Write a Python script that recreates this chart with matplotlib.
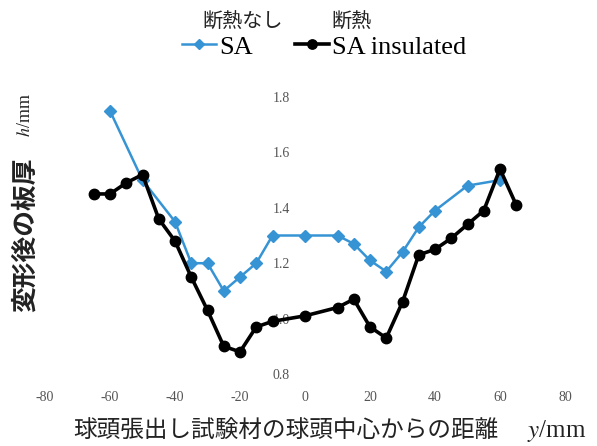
import matplotlib
matplotlib.use("Agg")
import matplotlib.pyplot as plt

# Distance from the ball-head centre (mm) and sheet thickness after forming (mm)
y_sa = [-60, -50, -40, -35, -30, -25, -20, -15, -10, 0, 10, 15, 20, 25, 30, 35, 40, 50, 60]
h_sa = [1.75, 1.50, 1.35, 1.20, 1.20, 1.10, 1.15, 1.20, 1.30, 1.30, 1.30, 1.27, 1.21,
        1.17, 1.24, 1.33, 1.39, 1.48, 1.50]

y_ins = [-65, -60, -55, -50, -45, -40, -35, -30, -25, -20, -15, -10, 0, 10, 15, 20, 25,
         30, 35, 40, 45, 50, 55, 60, 65]
h_ins = [1.45, 1.45, 1.49, 1.52, 1.36, 1.28, 1.15, 1.03, 0.90, 0.88, 0.97, 0.99, 1.01,
         1.04, 1.07, 0.97, 0.93, 1.06, 1.23, 1.25, 1.29, 1.34, 1.39, 1.54, 1.41]

x_ticks = [-80, -60, -40, -20, 0, 20, 40, 60, 80]
x_ticklabels = ["-80", "-60", "-40", "-20", "0", "20", "40", "60", "80"]
y_ticks = [0.8, 1.0, 1.2, 1.4, 1.6, 1.8]
y_ticklabels = ["0.8", "1.0", "1.2", "1.4", "1.6", "1.8"]

series_names = ["SA", "SA insulated"]
series_headers = ["断熱なし", "断熱"]
x_title = "球頭張出し試験材の球頭中心からの距離"
y_title = "変形後の板厚"

W, H = 597, 446
fig = plt.figure(figsize=(W / 100, H / 100), dpi=100)
ax = fig.add_axes([45 / W, 1 - 374 / H, 520 / W, 277 / H])

blue = "#3794d4"
ln_sa, = ax.plot(y_sa, h_sa, color=blue, lw=1.8, marker="D", ms=6,
                 mfc=blue, mec=blue, zorder=3)
ln_ins, = ax.plot(y_ins, h_ins, color="black", lw=2.6, marker="o", ms=7.5,
                  mfc="black", mec="black", zorder=4)

ax.set_xlim(-80, 80)
ax.set_ylim(0.8, 1.8)
for s in ax.spines.values():
    s.set_visible(False)
ax.spines["left"].set_position(("data", 0))

tick_font = dict(family="Liberation Serif", size=10)
ax.set_xticks(x_ticks)
ax.set_xticklabels(x_ticklabels, fontdict=tick_font, color="#555555")
ax.set_yticks(y_ticks)
ax.set_yticklabels(y_ticklabels, fontdict=tick_font, color="#555555")
ax.tick_params(axis="both", length=0)
ax.tick_params(axis="x", pad=12)
ax.tick_params(axis="y", pad=11)

# legend with Japanese headers above each entry
leg = fig.legend([ln_sa, ln_ins], series_names, loc="center left",
                 bbox_to_anchor=(182 / W, 1 - 47 / H), ncol=2, frameon=False,
                 prop=dict(family="Liberation Serif", size=19),
                 handlelength=1.3, handletextpad=0.1, columnspacing=1.6,
                 borderpad=0, borderaxespad=0, markerscale=0.9)
fig.text(202 / W, 1 - 22 / H, series_headers[0], family="Noto Sans CJK JP",
         fontsize=14.5, ha="left", va="center", color="#222222")
fig.text(331 / W, 1 - 22 / H, series_headers[1], family="Noto Sans CJK JP",
         fontsize=14.5, ha="left", va="center", color="#222222")

# axis titles
fig.text(73 / W, 1 - 430 / H, x_title, family="Noto Sans CJK JP", fontsize=17,
         ha="left", va="center", color="#222222")
fig.text(527 / W, 1 - 431 / H, "$\\mathit{y}$/mm", family="Liberation Serif",
         fontsize=18, ha="left", va="center", color="#222222",
         math_fontfamily="stix")
fig.text(25 / W, 1 - 235 / H, y_title, family="Noto Sans CJK JP", fontsize=18.5,
         weight="bold", rotation=90, ha="center", va="center", color="#222222")
fig.text(25 / W, 1 - 115 / H, "$\\mathit{h}$/mm", family="Liberation Serif",
         fontsize=13, rotation=90, ha="center", va="center", color="#222222",
         math_fontfamily="stix")

fig.savefig("out.png", dpi=100, facecolor="white")
